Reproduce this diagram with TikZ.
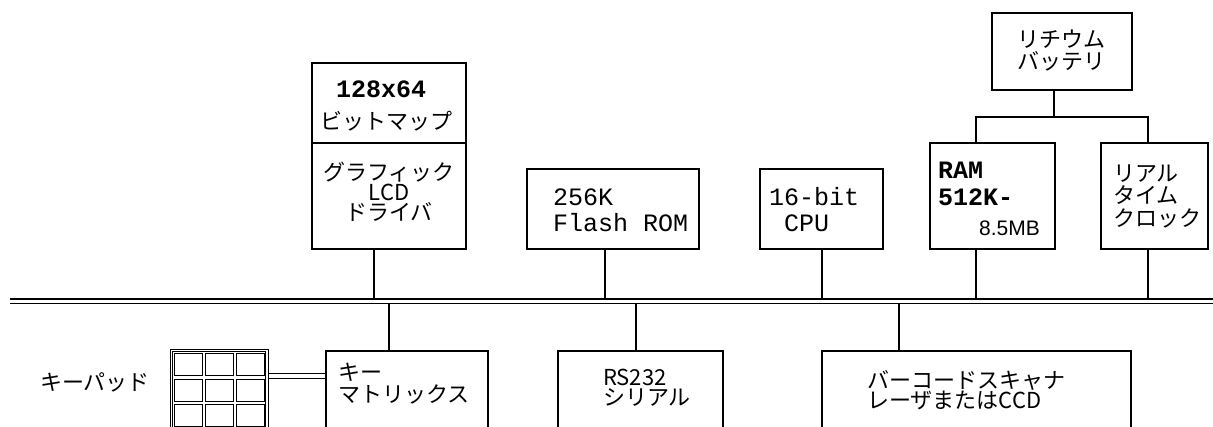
\documentclass[tikz,border=0pt]{standalone}
\usepackage{fontspec}
\setmainfont{Liberation Sans}
\newfontfamily\jp{Noto Sans CJK JP}
\newfontfamily\monof{Liberation Mono}
\begin{document}
\begin{tikzpicture}[x=1pt,y=-1pt,
  box/.style={draw,line width=1.4pt,inner sep=0pt},
  wire/.style={line width=1.4pt},
  thin wire/.style={line width=1pt},
  jtxt/.style={font=\jp\fontsize{22}{22}\selectfont,inner sep=0pt,align=left},
  mtxt/.style={font=\monof\fontsize{25}{26}\selectfont,inner sep=0pt,align=left},
  btxt/.style={font=\monof\bfseries\fontsize{25}{27}\selectfont,inner sep=0pt,align=left}]
\useasboundingbox (0,0) rectangle (1213,426);
\fill[white] (0,0) rectangle (1213,426);
\clip (0,0) rectangle (1213,426);

% bus
\coordinate (busA0) at (10,299);
\coordinate (busA1) at (1213,299);
\coordinate (busB0) at (10,303.5);
\coordinate (busB1) at (1213,303.5);
\draw[line width=1.3pt] (busA0) -- (busA1);
\draw[line width=1.3pt] (busB0) -- (busB1);

% upper boxes
\node[box,minimum width=154pt,minimum height=80pt] (lcdA) at (389,103) {};
\node[box,minimum width=154pt,minimum height=106pt] (lcdB) at (389,196) {};
\node[box,minimum width=172pt,minimum height=80pt] (flash) at (613,209) {};
\node[box,minimum width=123pt,minimum height=80pt] (cpu) at (821.5,209) {};
\node[box,minimum width=140pt,minimum height=77pt] (bat) at (1062,51.5) {};
\node[box,minimum width=125pt,minimum height=106pt] (ram) at (992.5,196) {};
\node[box,minimum width=107pt,minimum height=106pt] (clk) at (1154.5,196) {};

% lower boxes
\node[box,minimum width=162pt,minimum height=89pt] (keym) at (407,395.5) {};
\node[box,minimum width=165pt,minimum height=89pt] (rs) at (640.5,395.5) {};
\node[box,minimum width=309pt,minimum height=89pt] (bar) at (976.5,395.5) {};

% connector x positions
\coordinate (xl) at (374,0);
\coordinate (xf) at (605,0);
\coordinate (xc) at (822,0);
\coordinate (xr) at (976,0);
\coordinate (xk) at (1148,0);
\coordinate (xb) at (1054,117);
\coordinate (xm) at (389,0);
\coordinate (xs) at (636,0);
\coordinate (xq) at (899,0);

\draw[wire] (xl |- lcdB.south) -- (xl |- busA0);
\draw[wire] (xf |- flash.south) -- (xf |- busA0);
\draw[wire] (xc |- cpu.south) -- (xc |- busA0);
\draw[wire] (xr |- ram.south) -- (xr |- busA0);
\draw[wire] (xk |- clk.south) -- (xk |- busA0);
\draw[wire] (xb |- bat.south) -- (xb);
\draw[wire] (xr |- ram.north) -- (xr |- xb) -- (xk |- xb) -- (xk |- clk.north);
\draw[wire] (xm |- busB0) -- (xm |- keym.north);
\draw[wire] (xs |- busB0) -- (xs |- rs.north);
\draw[wire] (xq |- busB0) -- (xq |- bar.north);

% keypad drawing
\draw[thin wire] (170,349) rectangle (268,440);
\draw[thin wire] (172.5,351.5) rectangle (265.5,440);
\foreach \cx in {174,205,236}{
  \foreach \cy in {353,379,404}{
    \draw[thin wire] (\cx,\cy) rectangle ++(28,22);
  }
}
\coordinate (kpR1) at (268,373);
\coordinate (kpR2) at (268,378);
\draw[thin wire] (kpR1) -- (kpR1 -| keym.west);
\draw[thin wire] (kpR2) -- (kpR2 -| keym.west);

% texts
\node[btxt,anchor=west] (t128) at (336,89) {128x64};
\node[jtxt,anchor=west] (tbit) at (320,121) {ビットマップ};
\node[jtxt,align=center,font=\jp\fontsize{22}{20}\selectfont] (tlcd) at (389,192) {グラフィック\\LCD\\ドライバ};
\node[mtxt,anchor=west] (tfl) at (553,210) {256K\\Flash ROM};
\node[mtxt,anchor=west] (tcpu) at (769,210) {16-bit\\\phantom{1}CPU};
\node[btxt,anchor=west] (tram) at (938,183.5) {RAM\\512K-};
\node[inner sep=0pt,anchor=west,font=\fontsize{21}{21}\selectfont] (tmb) at (979,228) {8.5MB};
\node[jtxt,font=\jp\fontsize{22}{22}\selectfont] (tbat) at (1061,51) {リチウム\\バッテリ};
\node[jtxt,anchor=west,font=\jp\fontsize{22}{22.5}\selectfont] (tclk) at (1113,196) {リアル\\タイム\\クロック};
\node[jtxt,anchor=west] (tkp) at (40,382) {キーパッド};
\node[jtxt,anchor=west] (tkm) at (338,384) {キー\\マトリックス};
\node[jtxt,anchor=west,font=\jp\fontsize{22}{20}\selectfont] (trs) at (603,388) {RS232\\シリアル};
\node[jtxt,anchor=west,font=\jp\fontsize{22}{20}\selectfont] (tbar) at (867,390) {バーコードスキャナ\\レーザまたはCCD};
\end{tikzpicture}
\end{document}
